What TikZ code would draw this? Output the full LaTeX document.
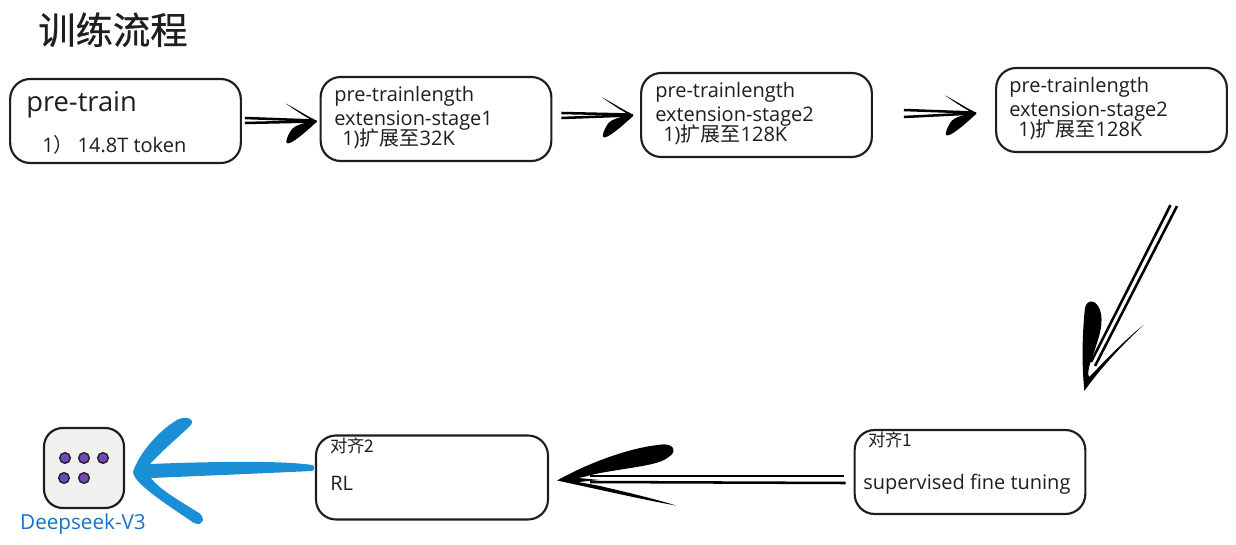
\documentclass[tikz,border=0pt]{standalone}
\usepackage{fontspec}
\setmainfont{Open Sans}
\newfontfamily\cjk{Noto Sans CJK SC}
\newfontfamily\cjkheavy[FakeBold=0.6]{Noto Sans CJK SC}
\usetikzlibrary{calc}
\definecolor{ink}{HTML}{1E1E1E}
\definecolor{skyblue}{HTML}{1A8FD6}
\definecolor{labelblue}{HTML}{1971C2}
\definecolor{dotpurple}{HTML}{7048B6}
\tikzset{
  sbox/.style={draw=ink,line width=1.6pt,rounded corners=15pt,fill=white,inner sep=0pt,
    minimum width=173pt,minimum height=63pt},
  txt/.style={anchor=base west,inner sep=0pt,text=ink,font=\fontsize{15}{18}\selectfont},
  cjktxt/.style={anchor=base west,inner sep=0pt,text=ink,font=\cjk\fontsize{13}{16}\selectfont},
  wire/.style={line width=1.9pt,black},
  dot/.style={circle,draw=ink,line width=1pt,fill=dotpurple,minimum size=8pt,inner sep=0pt}
}
\newcommand{\headright}[1]{%
  \begin{scope}[shift={(#1)}]
    \fill[black] (0,1.5) .. controls (-10,-3) and (-20,-10) .. (-31,-17.5)
      .. controls (-20,-12) and (-10,-5) .. (-3,-2) -- (0,0) -- cycle;
    \fill[black] (0,-1) .. controls (-10,2) and (-22,3) .. (-26,10)
      .. controls (-29,15) and (-31,20) .. (-30,22)
      .. controls (-27,25) and (-12,12) .. (0,1) -- cycle;
  \end{scope}}
\begin{document}
\begin{tikzpicture}[x=0.75pt,y=-0.75pt]
\useasboundingbox (0,0) rectangle (1236,545);
\node[anchor=base west,inner sep=0pt,text=ink,font=\cjkheavy\fontsize{28}{32}\selectfont] (title) at (38,44) {训练流程};

\node[sbox] (b1) at (125.5,121) {};
\node[sbox] (b2) at (436,119) {};
\node[sbox] (b3) at (756.5,115) {};
\node[sbox] (b4) at (1111.5,110) {};
\node[sbox] (b5) at (970,472) {};
\node[sbox,minimum width=174pt] (b6) at (432,477.5) {};
\node[draw=ink,line width=1.6pt,rounded corners=14pt,fill=black!6,minimum width=60pt,minimum height=60pt,inner sep=0pt] (icon) at (84,468) {};

\node[dot] (d1) at (65,458) {};
\node[dot] (d2) at (84,458) {};
\node[dot] (d3) at (103,458) {};
\node[dot] (d4) at (64,478) {};
\node[dot] (d5) at (84,478) {};

\node[txt,font=\fontsize{20.5}{22}\selectfont] (t1a) at (26,112) {pre-train};
\node[txt] (t1b) at (42,153) {1{\cjk ）}\kern3pt 14.8T token};

\node[txt] (t2a) at (334,102) {pre-trainlength};
\node[txt] (t2b) at (334,126) {extension-stage1};
\node[txt] (t2c) at (342,146) {1){\cjk 扩展至}32K};

\node[txt] (t3a) at (655,98) {pre-trainlength};
\node[txt] (t3b) at (655,122) {extension-stage2};
\node[txt] (t3c) at (663,142) {1){\cjk 扩展至}128K};

\node[txt] (t4a) at (1009,93) {pre-trainlength};
\node[txt] (t4b) at (1009,117) {extension-stage2};
\node[txt] (t4c) at (1018,137) {1){\cjk 扩展至}128K};

\node[cjktxt] (t5a) at (868,446) {对齐1};
\node[txt] (t5b) at (863,489) {supervised fine tuning};
\node[cjktxt] (t6a) at (330,452) {对齐2};
\node[txt] (t6b) at (330,490) {RL};

\node[anchor=base,inner sep=0pt,text=labelblue,font=\fontsize{15.5}{18}\selectfont] (dslabel) at (83,529) {Deepseek-V3};

% top connectors
\coordinate (tip12) at ([shift={(-3,2)}]b2.west);
\draw[wire] ([shift={(3,-3)}]b1.east) -- ([shift={(-3,-0.5)}]tip12);
\draw[wire] ([shift={(3,2)}]b1.east) -- ([shift={(-3,0.5)}]tip12);
\headright{tip12}

\coordinate (tip23) at ([shift={(-7,0)}]b3.west);
\draw[wire] ([shift={(9,-6)}]b2.east) -- ([shift={(-3,-0.5)}]tip23);
\draw[wire] ([shift={(9,-1)}]b2.east) -- ([shift={(-3,0.5)}]tip23);
\headright{tip23}

\coordinate (tip34) at ([shift={(-19,3)}]b4.west);
\draw[wire] ([shift={(31,-5)}]b3.east) -- ([shift={(-3,-0.5)}]tip34);
\draw[wire] ([shift={(31,2)}]b3.east) -- ([shift={(-3,0.5)}]tip34);
\headright{tip34}

% diagonal connector b4 -> b5
\coordinate (tail45) at ([shift={(62,52)}]b4.south);
\coordinate (tip45b) at ([shift={(-2,-38)}]b5.north east);
\draw[line width=1.9pt,black] ([shift={(-3,0)}]tail45) -- (1091,362);
\draw[line width=1.9pt,black] ([shift={(3.5,1)}]tail45) -- (1095,366);
\fill[black] (tip45b) .. controls (1081,360) and (1083,325) .. (1085,308)
  .. controls (1087,299) and (1096,299) .. (1100,310)
  .. controls (1104,322) and (1100,335) .. (1092,358)
  .. controls (1089,366) and (1087,374) .. (1089,377)
  -- (1097,369) .. controls (1115,350) and (1130,336) .. (1143.5,325)
  .. controls (1128,340) and (1105,362) .. (tip45b) -- cycle;

% b5 -> b6
\coordinate (tip56) at ([shift={(8,3)}]b6.east);
\draw[wire] ([shift={(-10,4)}]b5.west) -- (590,476);
\draw[wire] ([shift={(-8,11)}]b5.west) -- (590,482);
\fill[black] (tip56) .. controls (590,462) and (630,448) .. (658,445)
  .. controls (672,442) and (678,450) .. (670,456)
  .. controls (660,465) and (640,466) .. (600,473)
  .. controls (590,475) and (585,477) .. (578,478)
  -- (600,480) -- (578,482) -- (600,486) .. controls (630,493) and (655,499) .. (676,505.5)
  .. controls (650,501) and (610,492) .. (tip56) -- cycle;

% b6 -> icon (blue)
\coordinate (tailblue) at ([shift={(-3,-9)}]b6.west);
\coordinate (tipblue) at ([shift={(8,4)}]icon.east);
\fill[skyblue] ([shift={(0,-3.5)}]tailblue) .. controls (280,460) and (200,462) .. (150,464)
  .. controls (165,448) and (182,434) .. (191,425)
  .. controls (195,419) and (186,415) .. (177,420)
  .. controls (158,431) and (138,455) .. (tipblue)
  .. controls (134,483) and (160,500) .. (194,523)
  .. controls (203,527) and (206,518) .. (199,513)
  .. controls (180,501) and (160,490) .. (151,478)
  .. controls (200,476) and (270,473) .. ([shift={(0,2.5)}]tailblue)
  .. controls (315,470) and (315,465) .. ([shift={(0,-3.5)}]tailblue) -- cycle;
\end{tikzpicture}
\end{document}
